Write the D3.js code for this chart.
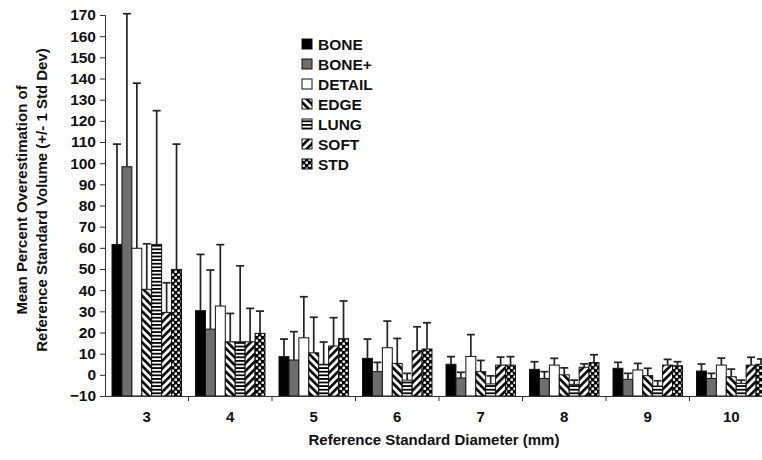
<!DOCTYPE html>
<html>
<head>
<meta charset="utf-8">
<script src="https://cdn.jsdelivr.net/npm/d3@7"></script>
<style>
  html, body { margin: 0; padding: 0; background: #fff; }
  svg { display: block; font-family: "Liberation Sans", Arial, sans-serif; font-weight: bold; }
</style>
</head>
<body>
<svg id="chart" width="762" height="460"></svg>
<script>
// ---- data ----
const categories = ["3", "4", "5", "6", "7", "8", "9", "10"];
const seriesNames = ["BONE", "BONE+", "DETAIL", "EDGE", "LUNG", "SOFT", "STD"];
const boneMean   = [61.6, 30.3, 8.6, 7.8, 5.0, 2.6, 3.1, 1.8];
const boneSd     = [47.4, 26.6, 8.3, 9.1, 3.6, 3.6, 2.8, 3.3];
const bonePlusMean = [98.3, 21.6, 7.0, 1.5, -1.5, -1.7, -2.1, -1.7];
const bonePlusSd   = [72.3, 27.9, 13.4, 4.4, 2.7, 3.2, 2.8, 2.4];
const detailMean = [59.8, 32.5, 17.5, 12.8, 8.7, 4.6, 2.3, 4.6];
const detailSd   = [78.0, 29.0, 19.4, 12.6, 10.3, 3.2, 3.1, 3.3];
const edgeMean   = [40.4, 15.6, 10.4, 5.4, 1.5, 0.0, -0.4, -0.9];
const edgeSd     = [21.5, 13.4, 16.8, 11.8, 5.3, 3.3, 3.5, 3.6];
const lungMean   = [61.6, 15.6, 5.0, -2.5, -4.3, -4.5, -5.3, -4.0];
const lungSd     = [63.2, 35.9, 10.5, 3.2, 3.8, 2.0, 2.5, 1.5];
const softMean   = [29.5, 15.6, 13.6, 11.4, 4.6, 3.6, 4.6, 4.6];
const softSd     = [14.0, 15.8, 13.4, 11.3, 3.8, 1.6, 2.7, 3.7];
const stdMean    = [49.8, 19.6, 17.1, 12.2, 4.6, 5.8, 4.3, 5.0];
const stdSd      = [59.2, 10.5, 17.8, 12.4, 4.0, 3.7, 1.9, 2.5];
const yTicks = [-10, 0, 10, 20, 30, 40, 50, 60, 70, 80, 90, 100, 110, 120, 130, 140, 150, 160, 170];
const yTitleLines = ["Mean Percent Overestimation of", "Reference Standard Volume (+/- 1 Std Dev)"];
const xTitle = "Reference Standard Diameter (mm)";

const means = [boneMean, bonePlusMean, detailMean, edgeMean, lungMean, softMean, stdMean];
const sds = [boneSd, bonePlusSd, detailSd, edgeSd, lungSd, softSd, stdSd];

// ---- layout ----
const svg = d3.select("#chart");
const defs = svg.append("defs");

// patterns
const pEdge = defs.append("pattern").attr("id", "pEdge").attr("patternUnits", "userSpaceOnUse")
  .attr("width", 5.5).attr("height", 5.5).attr("patternTransform", "rotate(-45)");
pEdge.append("rect").attr("width", 5.5).attr("height", 5.5).attr("fill", "#fff");
pEdge.append("rect").attr("width", 2.6).attr("height", 5.5).attr("fill", "#000");

const pSoft = defs.append("pattern").attr("id", "pSoft").attr("patternUnits", "userSpaceOnUse")
  .attr("width", 5.5).attr("height", 5.5).attr("patternTransform", "rotate(45)");
pSoft.append("rect").attr("width", 5.5).attr("height", 5.5).attr("fill", "#fff");
pSoft.append("rect").attr("width", 2.6).attr("height", 5.5).attr("fill", "#000");

const pLung = defs.append("pattern").attr("id", "pLung").attr("patternUnits", "userSpaceOnUse")
  .attr("width", 4).attr("height", 3.6);
pLung.append("rect").attr("width", 4).attr("height", 3.6).attr("fill", "#fff");
pLung.append("rect").attr("width", 4).attr("height", 1.8).attr("fill", "#000");

const pStd = defs.append("pattern").attr("id", "pStd").attr("patternUnits", "userSpaceOnUse")
  .attr("width", 6).attr("height", 6);
pStd.append("rect").attr("width", 6).attr("height", 6).attr("fill", "#000");
pStd.append("rect").attr("x", 0.5).attr("y", 0.5).attr("width", 2.4).attr("height", 2.4).attr("fill", "#fff");
pStd.append("rect").attr("x", 3.5).attr("y", 3.5).attr("width", 2.4).attr("height", 2.4).attr("fill", "#fff");

const fills = ["#000000", "#6e6e6e", "#ffffff", "url(#pEdge)", "url(#pLung)", "url(#pSoft)", "url(#pStd)"];

const x = d3.scaleBand().domain(categories).range([105, 773]).paddingInner(0.168).paddingOuter(0.084);
const xs = d3.scaleBand().domain(seriesNames).range([0, x.bandwidth()]);
const y = d3.scaleLinear().domain([-10, 170]).range([396, 15]);

// bars
const rows = [];
seriesNames.forEach((s, si) => {
  categories.forEach((c, ci) => {
    rows.push({ s, si, c, m: means[si][ci], sd: sds[si][ci] });
  });
});

const g = svg.append("g");
g.selectAll("rect.bar").data(rows).enter().append("rect")
  .attr("class", "bar")
  .attr("x", d => x(d.c) + xs(d.s))
  .attr("width", xs.bandwidth())
  .attr("y", d => y(d.m))
  .attr("height", d => y(-10) - y(d.m))
  .attr("fill", d => fills[d.si])
  .attr("stroke", "#111")
  .attr("stroke-width", 1);

// error bars
const eb = g.selectAll("g.err").data(rows).enter().append("g").attr("class", "err")
  .attr("stroke", "#222").attr("stroke-width", 1.7);
eb.append("line")
  .attr("x1", d => x(d.c) + xs(d.s) + xs.bandwidth() / 2)
  .attr("x2", d => x(d.c) + xs(d.s) + xs.bandwidth() / 2)
  .attr("y1", d => y(d.m))
  .attr("y2", d => y(d.m + d.sd));
eb.append("line")
  .attr("x1", d => x(d.c) + xs(d.s) + xs.bandwidth() / 2 - 4)
  .attr("x2", d => x(d.c) + xs(d.s) + xs.bandwidth() / 2 + 4)
  .attr("y1", d => y(d.m + d.sd))
  .attr("y2", d => y(d.m + d.sd));

// y axis
const yAxis = svg.append("g").attr("transform", "translate(105,0)")
  .call(d3.axisLeft(y).tickValues(yTicks).tickSize(5).tickPadding(4).tickFormat(d3.format("d")));
yAxis.selectAll("text").attr("font-size", 15.5).attr("font-weight", "bold").attr("fill", "#111")
  .attr("font-family", "Liberation Sans, Arial, sans-serif");
yAxis.selectAll("line, path").attr("stroke", "#333");

// x axis
const xAxis = svg.append("g").attr("transform", "translate(0,396)")
  .call(d3.axisBottom(x).tickSize(0).tickPadding(15));
xAxis.select("path").attr("stroke", "#333");
xAxis.selectAll("text").attr("font-size", 15).attr("font-weight", "bold").attr("fill", "#111")
  .attr("font-family", "Liberation Sans, Arial, sans-serif");
const bounds = categories.map(c => x(c) - x.step() * x.paddingInner() / 2).slice(1);
xAxis.selectAll("line.bnd").data(bounds).enter().append("line").attr("class", "bnd")
  .attr("x1", d => d).attr("x2", d => d).attr("y1", 0).attr("y2", 5).attr("stroke", "#333");

// axis titles
svg.append("text").attr("x", 434).attr("y", 445).attr("text-anchor", "middle")
  .attr("font-size", 15).attr("fill", "#111").text(xTitle);
yTitleLines.forEach((t, i) => {
  svg.append("text")
    .attr("transform", `translate(${27 + i * 20},200) rotate(-90)`)
    .attr("text-anchor", "middle").attr("font-size", 15).attr("fill", "#111").text(t);
});

// legend
const leg = svg.append("g").attr("transform", "translate(302,44)");
const li = leg.selectAll("g").data(seriesNames).enter().append("g")
  .attr("transform", (d, i) => `translate(0,${i * 20})`);
li.append("rect").attr("x", 0).attr("y", -5).attr("width", 10).attr("height", 10)
  .attr("fill", (d, i) => fills[i]).attr("stroke", "#111").attr("stroke-width", 1);
li.append("text").attr("x", 16).attr("y", 5.5).attr("font-size", 15.5).attr("fill", "#111").text(d => d);
</script>
</body>
</html>
